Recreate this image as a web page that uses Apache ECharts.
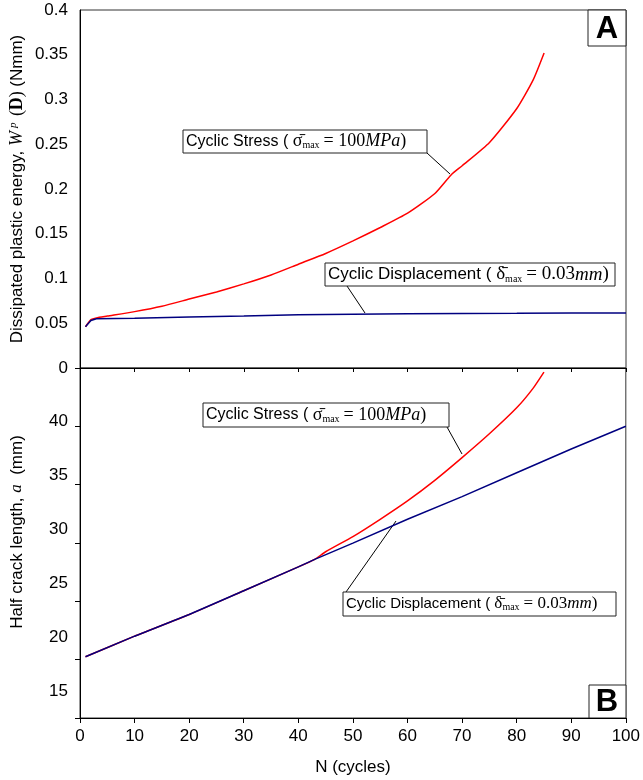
<!DOCTYPE html>
<html>
<head>
<meta charset="utf-8">
<script src="https://cdn.jsdelivr.net/npm/echarts@6/dist/echarts.min.js"></script>
<style>
  html, body { margin: 0; padding: 0; background: #fff; }
  #chart { width: 643px; height: 780px; }
</style>
</head>
<body>
<div id="chart"></div>
<script>
// panel A : dissipated plastic energy (Nmm)
var energyStressN = [1, 2, 3, 5, 10, 15, 20, 25, 30, 35, 40, 45, 50, 55, 60, 65, 68, 70, 75, 80, 83, 85];
var energyStress = [0.046, 0.054, 0.056, 0.058, 0.063, 0.069, 0.077, 0.085, 0.094, 0.104, 0.116, 0.128, 0.142, 0.157, 0.173, 0.195, 0.216, 0.226, 0.252, 0.29, 0.322, 0.352];
var energyDispN = [1, 2, 3, 10, 20, 30, 40, 50, 60, 70, 80, 90, 100];
var energyDisp = [0.046, 0.053, 0.055, 0.0555, 0.057, 0.058, 0.0595, 0.060, 0.0605, 0.061, 0.0612, 0.0615, 0.0615];

// panel B : half crack length (mm)
var crackStressN = [1, 10, 20, 30, 40, 43, 45, 50, 55, 60, 65, 70, 75, 80, 83, 85];
var crackStress = [18.2, 20.1, 22.1, 24.3, 26.5, 27.2, 27.9, 29.3, 30.9, 32.6, 34.5, 36.6, 38.8, 41.2, 43.0, 44.5];
var crackDispN = [1, 10, 20, 30, 40, 43, 50, 60, 70, 80, 90, 100];
var crackDisp = [18.2, 20.1, 22.1, 24.3, 26.5, 27.2, 28.7, 30.9, 33.0, 35.2, 37.4, 39.5];

var crackLabels = [15, 20, 25, 30, 35, 40];

function pairs(xs, ys) {
  var out = [];
  for (var i = 0; i < xs.length; i++) out.push([xs[i], ys[i]]);
  return out;
}

var sans = 'Liberation Sans, Arial, sans-serif';
var serif = 'Liberation Serif, Times New Roman, serif';

function note(x, y, w, h, txt, size) {
  return {
    type: 'group',
    children: [
      { type: 'rect', shape: { x: x, y: y, width: w, height: h },
        style: { fill: '#fff', stroke: '#222', lineWidth: 1 } },
      { type: 'text', x: x + 3, y: y + h / 2,
        style: {
          text: txt, verticalAlign: 'middle', align: 'left',
          rich: {
            s: { fontFamily: sans, fontSize: size, fill: '#000' },
            g: { fontFamily: serif, fontSize: size + 2, fill: '#000' },
            sub: { fontFamily: serif, fontSize: 10, fill: '#000', verticalAlign: 'bottom', padding: [7, 4, 0, 0] },
            m: { fontFamily: serif, fontSize: size + 2, fill: '#000' },
            i: { fontFamily: serif, fontSize: size + 2, fontStyle: 'italic', fill: '#000' }
          }
        } }
    ]
  };
}

function leader(x1, y1, x2, y2) {
  return { type: 'line', shape: { x1: x1, y1: y1, x2: x2, y2: y2 }, style: { stroke: '#000', lineWidth: 1 } };
}

var chart = echarts.init(document.getElementById('chart'));

var option = {
  animation: false,
  grid: [
    { left: 80, right: 17, top: 10, height: 358, show: true, borderColor: '#333', borderWidth: 1 },
    { left: 80, right: 17, top: 368, height: 350, show: true, borderColor: '#333', borderWidth: 1 }
  ],
  xAxis: [
    {
      type: 'value', gridIndex: 0, min: 0, max: 100, interval: 10,
      axisLine: { lineStyle: { color: '#000' } },
      axisTick: { length: 4, lineStyle: { color: '#000' } },
      axisLabel: { show: false },
      splitLine: { show: false }
    },
    {
      type: 'value', gridIndex: 1, min: 0, max: 100, interval: 10,
      name: 'N (cycles)', nameLocation: 'middle', nameGap: 41,
      nameTextStyle: { fontFamily: sans, fontSize: 17, color: '#000' },
      axisLine: { lineStyle: { color: '#000' } },
      axisTick: { length: 5, lineStyle: { color: '#000' } },
      axisLabel: { fontFamily: sans, fontSize: 17, color: '#000', margin: 10 },
      splitLine: { show: false }
    }
  ],
  yAxis: [
    {
      type: 'value', gridIndex: 0, position: 'left', min: 0, max: 0.4, interval: 0.05,
      axisLine: { show: true, lineStyle: { color: '#000' } },
      axisTick: { show: true, customValues: [0], length: 5, lineStyle: { color: '#000' } },
      axisLabel: { fontFamily: sans, fontSize: 17, color: '#000', margin: 12 },
      splitLine: { show: false }
    },
    {
      type: 'value', gridIndex: 1, position: 'left', min: 15, max: 45, interval: 5,
      axisLine: { show: true, lineStyle: { color: '#000' } },
      axisTick: { show: true, length: 5, lineStyle: { color: '#000' } },
      axisLabel: { show: false },
      splitLine: { show: false }
    },
    {
      // the printed labels of panel B sit on their own scale
      type: 'value', gridIndex: 1, position: 'left', offset: 0, min: 12.54, max: 44.88,
      axisLine: { show: false },
      axisTick: { show: false },
      axisLabel: { customValues: crackLabels, fontFamily: sans, fontSize: 17, color: '#000', margin: 12 },
      splitLine: { show: false }
    }
  ],
  series: [
    { name: 'Cyclic Stress', type: 'line', xAxisIndex: 0, yAxisIndex: 0, data: pairs(energyStressN, energyStress),
      showSymbol: false, smooth: 0.2, lineStyle: { color: '#ff0000', width: 1.5 } },
    { name: 'Cyclic Displacement', type: 'line', xAxisIndex: 0, yAxisIndex: 0, data: pairs(energyDispN, energyDisp),
      showSymbol: false, lineStyle: { color: '#000080', width: 1.5 } },
    { name: 'Cyclic Stress', type: 'line', xAxisIndex: 1, yAxisIndex: 2, data: pairs(crackStressN, crackStress),
      showSymbol: false, smooth: 0.2, lineStyle: { color: '#ff0000', width: 1.5 } },
    { name: 'Cyclic Displacement', type: 'line', xAxisIndex: 1, yAxisIndex: 2, data: pairs(crackDispN, crackDisp),
      showSymbol: false, lineStyle: { color: '#000080', width: 1.5 } }
  ],
  graphic: [
    // y axis titles
    { type: 'text', x: 17, y: 189, rotation: Math.PI / 2,
      style: { text: '{s|Dissipated plastic energy, }{i|W}{p|p}{m| (}{b|D}{m|) }{s|(Nmm)}',
        align: 'center', verticalAlign: 'middle',
        rich: {
          s: { fontFamily: sans, fontSize: 17, fill: '#000' },
          i: { fontFamily: serif, fontSize: 18, fontStyle: 'italic', fill: '#000' },
          p: { fontFamily: serif, fontSize: 11, fontStyle: 'italic', fill: '#000', verticalAlign: 'top', padding: [0, 2, 7, 3] },
          m: { fontFamily: serif, fontSize: 18, fill: '#000' },
          b: { fontFamily: serif, fontSize: 18, fontWeight: 'bold', fill: '#000' }
        } } },
    { type: 'text', x: 17, y: 532, rotation: Math.PI / 2,
      style: { text: '{s|Half crack length, }{i|a}{s|  (mm)}',
        align: 'center', verticalAlign: 'middle',
        rich: {
          s: { fontFamily: sans, fontSize: 17, fill: '#000' },
          i: { fontFamily: serif, fontSize: 17, fontStyle: 'italic', fill: '#000' }
        } } },
    // panel letters
    { type: 'rect', shape: { x: 588, y: 10, width: 38, height: 36 }, style: { fill: '#fff', stroke: '#222', lineWidth: 1 } },
    { type: 'text', x: 607, y: 29, style: { text: 'A', fontFamily: sans, fontWeight: 'bold', fontSize: 31, fill: '#000', align: 'center', verticalAlign: 'middle' } },
    { type: 'rect', shape: { x: 589, y: 685, width: 37, height: 33 }, style: { fill: '#fff', stroke: '#222', lineWidth: 1 } },
    { type: 'text', x: 607, y: 702, style: { text: 'B', fontFamily: sans, fontWeight: 'bold', fontSize: 31, fill: '#000', align: 'center', verticalAlign: 'middle' } },
    // leaders and labels
    leader(427, 153, 450, 174),
    leader(347, 286, 365, 313),
    leader(447, 427, 462, 454),
    leader(346, 592, 396, 521),
    note(183, 130, 244, 23, '{s|Cyclic Stress ( }{g|\u03c3\u0304}{sub|max}{m|= 100}{i|MPa}{m|)}', 16),
    note(325, 263, 290, 23, '{s|Cyclic Displacement ( }{g|\u03b4\u0304}{sub|max}{m|= 0.03}{i|mm}{m|)}', 17),
    note(203, 403, 246, 24, '{s|Cyclic Stress ( }{g|\u03c3\u0304}{sub|max}{m|= 100}{i|MPa}{m|)}', 16),
    note(343, 592, 273, 24, '{s|Cyclic Displacement ( }{g|\u03b4\u0304}{sub|max}{m|= 0.03}{i|mm}{m|)}', 15)
  ]
};

chart.setOption(option);
</script>
</body>
</html>
